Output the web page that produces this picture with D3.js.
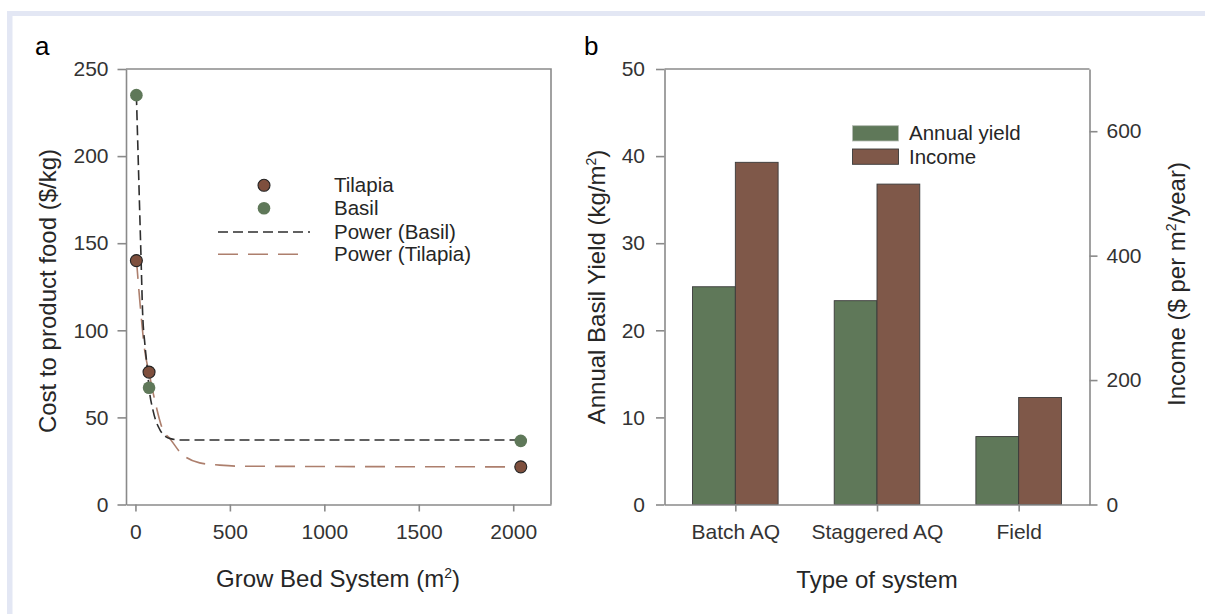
<!DOCTYPE html>
<html lang="en">
<head>
<meta charset="UTF-8">
<title>Cost and yield</title>
<script src="https://d3js.org/d3.v7.min.js"></script>
<style>
  body { margin: 0; background: #fff; }
  svg { display: block; font-family: "Liberation Sans", Arial, sans-serif; }
  .axis path, .axis line { stroke: #8a8a8a; stroke-width: 1.6px; }
  .axis text { font-size: 21px; fill: #333; }
  .frame { stroke: #8a8a8a; stroke-width: 1.6px; fill: none; }
  .title { font-size: 24px; fill: #262626; }
  .leg { font-size: 20.5px; fill: #262626; }
  .panel { font-size: 26px; fill: #000; }
</style>
</head>
<body>
<svg width="1205" height="614"></svg>
<script>
// panel a: cost to produce food vs grow bed size
var tilapiaX = [5, 72, 2040];
var tilapiaY = [140, 76, 21.6];
var basilX = [5, 72, 2040];
var basilY = [235, 67, 36.5];
// fitted power curves
var basilFitX = [5, 30, 38, 50, 62, 72, 93, 129, 160, 185, 250, 2040];
var basilFitY = [235, 140, 110, 92, 79, 67, 54, 43, 39, 37.8, 37, 37];
var tilapiaFitX = [5, 23, 49, 72, 102, 146, 182, 235, 340, 446, 552, 2040];
var tilapiaFitY = [141, 117, 88.5, 75.6, 60, 42.6, 37.9, 30.2, 23.9, 22.6, 22, 21.6];
var xTicksA = [0, 500, 1000, 1500, 2000];
var yTicksA = [0, 50, 100, 150, 200, 250];

// panel b: yield and income per system
var systems = ["Batch AQ", "Staggered AQ", "Field"];
var annualYield = [25.0, 23.4, 7.8];
var income = [550, 515, 172];
var yTicksB = [0, 10, 20, 30, 40, 50];
var yTicksIncome = [0, 200, 400, 600];

var green = "#5f7859", brown = "#7f5849";

var svg = d3.select("svg");

// light page frame
svg.append("rect").attr("x", 7).attr("y", 11).attr("width", 1198).attr("height", 5).attr("fill", "#e3e7f4");
svg.append("rect").attr("x", 7).attr("y", 11).attr("width", 5.5).attr("height", 603).attr("fill", "#e3e7f4");

// ---------- panel a ----------
var xA = d3.scaleLinear().domain([-50, 2200]).range([126, 551]);
var yA = d3.scaleLinear().domain([0, 250]).range([504.5, 69]);

svg.append("path").attr("class", "frame")
    .attr("d", "M" + xA.range()[0] + "," + yA.range()[1] + "H" + xA.range()[1] + "V" + yA.range()[0]);

svg.append("g").attr("class", "axis")
    .attr("transform", "translate(0," + yA.range()[0] + ")")
    .call(d3.axisBottom(xA).tickValues(xTicksA).tickSize(7).tickSizeOuter(0).tickPadding(13).tickFormat(d3.format("d")));
svg.append("g").attr("class", "axis")
    .attr("transform", "translate(" + xA.range()[0] + ",0)")
    .call(d3.axisLeft(yA).tickValues(yTicksA).tickSize(8.5).tickSizeOuter(0).tickPadding(9));

var lineA = d3.line().x(d => xA(d[0])).y(d => yA(d[1])).curve(d3.curveMonotoneX);
svg.append("path").attr("fill", "none").attr("stroke", "#ad7f6d").attr("stroke-width", 1.6)
    .attr("stroke-dasharray", "20,10")
    .attr("d", lineA(d3.zip(tilapiaFitX, tilapiaFitY)));
svg.append("path").attr("fill", "none").attr("stroke", "#2e2e2e").attr("stroke-width", 1.6)
    .attr("stroke-dasharray", "10,5")
    .attr("d", lineA(d3.zip(basilFitX, basilFitY)));

svg.append("g").selectAll("circle").data(d3.zip(basilX, basilY)).join("circle")
    .attr("cx", d => xA(d[0])).attr("cy", d => yA(d[1])).attr("r", 6.3)
    .attr("fill", green);
svg.append("g").selectAll("circle").data(d3.zip(tilapiaX, tilapiaY)).join("circle")
    .attr("cx", d => xA(d[0])).attr("cy", d => yA(d[1])).attr("r", 6)
    .attr("fill", "#7e4f3d").attr("stroke", "#222").attr("stroke-width", 1.1);

// legend a
var legA = svg.append("g");
legA.append("circle").attr("cx", 264).attr("cy", 185.3).attr("r", 6).attr("fill", "#7e4f3d").attr("stroke", "#222").attr("stroke-width", 1.1);
legA.append("circle").attr("cx", 264).attr("cy", 208.3).attr("r", 6.3).attr("fill", green);
legA.append("line").attr("x1", 218).attr("x2", 310).attr("y1", 232).attr("y2", 232)
    .attr("stroke", "#2e2e2e").attr("stroke-width", 1.6).attr("stroke-dasharray", "10,5");
legA.append("line").attr("x1", 218).attr("x2", 305).attr("y1", 254.3).attr("y2", 254.3)
    .attr("stroke", "#ad7f6d").attr("stroke-width", 1.6).attr("stroke-dasharray", "20,10");
["Tilapia", "Basil", "Power (Basil)", "Power (Tilapia)"].forEach(function (t, i) {
    legA.append("text").attr("class", "leg").attr("x", 334).attr("y", [185.3, 208.3, 231.5, 254.3][i])
        .attr("dy", "0.35em").text(t);
});

svg.append("text").attr("class", "panel").attr("x", 35).attr("y", 55).text("a");
svg.append("text").attr("class", "title").attr("text-anchor", "middle")
    .attr("transform", "translate(56,291) rotate(-90)")
    .html('Cost to product food ($/kg)');
svg.append("text").attr("class", "title").attr("text-anchor", "middle")
    .attr("x", 338).attr("y", 587)
    .html('Grow Bed System (m<tspan dy="-9" font-size="14">2</tspan><tspan dy="9">)</tspan>');

// ---------- panel b ----------
var xB = d3.scalePoint().domain(systems).range([664.5, 1089.5]).padding(0.5);
var yB = d3.scaleLinear().domain([0, 50]).range([504.5, 69]);
var yInc = d3.scaleLinear().domain([0, 700]).range([504.5, 69]);
var barW = xB.step() * 0.302;

svg.append("line").attr("class", "frame")
    .attr("x1", 664.5).attr("x2", 1089.5).attr("y1", 69).attr("y2", 69);

var bars = svg.append("g");
bars.selectAll("rect.y").data(systems).join("rect").attr("class", "y")
    .attr("x", d => xB(d) - barW).attr("width", barW)
    .attr("y", (d, i) => yB(annualYield[i])).attr("height", (d, i) => yB(0) - yB(annualYield[i]))
    .attr("fill", green).attr("stroke", "#3a3a3a").attr("stroke-width", 0.9);
bars.selectAll("rect.inc").data(systems).join("rect").attr("class", "inc")
    .attr("x", d => xB(d)).attr("width", barW)
    .attr("y", (d, i) => yInc(income[i])).attr("height", (d, i) => yInc(0) - yInc(income[i]))
    .attr("fill", brown).attr("stroke", "#3a3a3a").attr("stroke-width", 0.9);

svg.append("g").attr("class", "axis")
    .attr("transform", "translate(0,504.5)")
    .call(d3.axisBottom(xB).tickSize(7).tickSizeOuter(0).tickPadding(13));
svg.append("g").attr("class", "axis")
    .attr("transform", "translate(664.5,0)")
    .call(d3.axisLeft(yB).tickValues(yTicksB).tickSize(8.5).tickSizeOuter(0).tickPadding(11));
svg.append("g").attr("class", "axis")
    .attr("transform", "translate(1089.5,0)")
    .call(d3.axisRight(yInc).tickValues(yTicksIncome).tickSize(8).tickSizeOuter(0).tickPadding(9));

// legend b
var legB = svg.append("g");
legB.append("rect").attr("x", 852.5).attr("y", 125.7).attr("width", 46).attr("height", 15.3)
    .attr("fill", green).attr("stroke", "#b5bbb3").attr("stroke-width", 0.8);
legB.append("rect").attr("x", 852.5).attr("y", 149).attr("width", 46).attr("height", 15.3)
    .attr("fill", brown).attr("stroke", "#3a3a3a").attr("stroke-width", 0.9);
legB.append("text").attr("class", "leg").attr("x", 909).attr("y", 133.3).attr("dy", "0.35em").text("Annual yield");
legB.append("text").attr("class", "leg").attr("x", 909).attr("y", 156.7).attr("dy", "0.35em").text("Income");

svg.append("text").attr("class", "panel").attr("x", 584).attr("y", 55).text("b");
svg.append("text").attr("class", "title").attr("text-anchor", "middle")
    .attr("transform", "translate(605,287) rotate(-90)")
    .html('Annual Basil Yield (kg/m<tspan dy="-9" font-size="14">2</tspan><tspan dy="9">)</tspan>');
svg.append("text").attr("class", "title").attr("text-anchor", "middle")
    .attr("transform", "translate(1185,284) rotate(-90)")
    .html('Income ($ per m<tspan dy="-9" font-size="14">2</tspan><tspan dy="9">/year)</tspan>');
svg.append("text").attr("class", "title").attr("text-anchor", "middle")
    .attr("x", 877).attr("y", 588).text("Type of system");
</script>
</body>
</html>
